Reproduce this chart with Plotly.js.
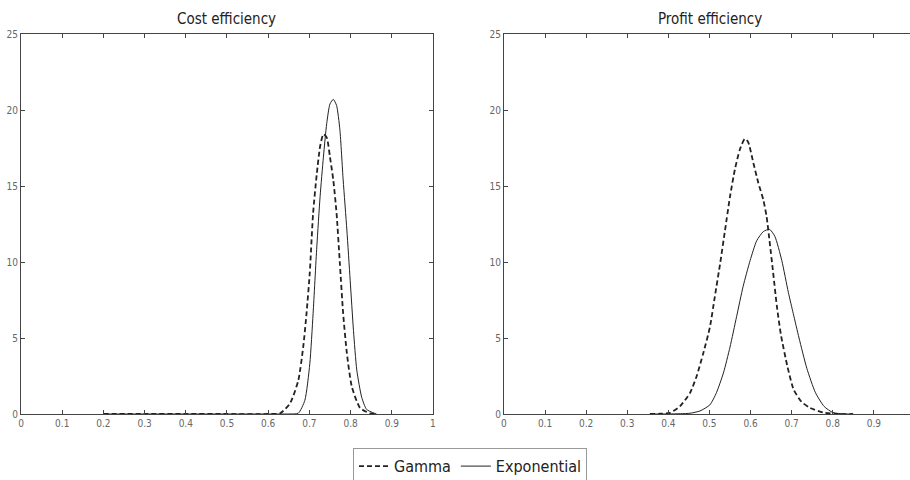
<!DOCTYPE html>
<html>
<head>
<meta charset="utf-8">
<script src="https://cdn.plot.ly/plotly-3.0.1.min.js"></script>
<style>html,body{margin:0;padding:0;background:#fff;}#chart{width:910px;height:480px;}</style>
</head>
<body>
<div id="chart"></div>
<script>
// Cost efficiency densities
const costGammaX = [0.20,0.30,0.40,0.50,0.60,0.629,0.653,0.673,0.685,0.693,0.701,0.709,0.718,0.726,0.734,0.742,0.750,0.758,0.766,0.774,0.782,0.791,0.803,0.823,0.847,0.864];
const costGammaY = [0,0,0,0,0,0.05,0.7,2.2,4.4,6.6,9.3,13.2,15.8,17.6,18.4,18.2,16.9,15.4,13.2,9.9,6.6,4.0,1.8,0.4,0.05,0];
const costExpX = [0.20,0.30,0.40,0.50,0.60,0.65,0.673,0.689,0.701,0.709,0.718,0.726,0.734,0.742,0.750,0.758,0.766,0.774,0.782,0.791,0.799,0.807,0.815,0.827,0.839,0.863];
const costExpY = [0,0,0,0,0,0,0.05,0.9,3.3,6.6,11.0,14.3,16.9,19.1,20.4,20.7,20.3,18.7,15.4,12.1,8.8,5.5,2.9,1.1,0.3,0];
// Profit efficiency densities
const profGammaX = [0.355,0.38,0.404,0.428,0.453,0.469,0.485,0.501,0.513,0.526,0.538,0.550,0.562,0.574,0.586,0.594,0.607,0.619,0.631,0.639,0.647,0.655,0.664,0.674,0.69,0.705,0.724,0.745,0.777,0.81,0.849];
const profGammaY = [0,0.02,0.08,0.5,1.4,2.5,4.0,5.7,7.7,9.9,12.1,14.3,16.1,17.4,18.1,17.9,16.5,15.2,14.1,13.0,11.2,9.3,7.1,5.2,3.1,1.6,0.8,0.4,0.1,0,0];
const profExpX = [0.36,0.40,0.43,0.453,0.477,0.501,0.517,0.534,0.550,0.566,0.582,0.599,0.615,0.631,0.646,0.659,0.676,0.692,0.704,0.718,0.737,0.758,0.779,0.80,0.83,0.85];
const profExpY = [0,0,0.02,0.05,0.2,0.6,1.4,2.7,4.4,6.4,8.4,10.1,11.4,12.0,12.15,11.7,10.1,8.0,6.6,5.0,3.0,1.4,0.5,0.1,0,0];

const panelTitles = ["Cost efficiency", "Profit efficiency"];
const seriesNames = ["Gamma", "Exponential"];
const xTicks = [0,0.1,0.2,0.3,0.4,0.5,0.6,0.7,0.8,0.9,1];
const xTickText = ["0","0.1","0.2","0.3","0.4","0.5","0.6","0.7","0.8","0.9","1"];
const yTicks = [0,5,10,15,20,25];

const FONT = "'Liberation Sans Narrow', 'Arial Narrow', 'DejaVu Sans Condensed', 'Liberation Sans', Arial, sans-serif";
const lineCol = '#222';

const traces = [
  {x: costGammaX, y: costGammaY, name: seriesNames[0], xaxis:'x', yaxis:'y', mode:'lines',
   line:{color:lineCol, width:1.8, dash:'5px,3px', shape:'spline', smoothing:0.6}, showlegend:true},
  {x: costExpX, y: costExpY, name: seriesNames[1], xaxis:'x', yaxis:'y', mode:'lines',
   line:{color:lineCol, width:1, shape:'spline', smoothing:0.6}, showlegend:true},
  {x: profGammaX, y: profGammaY, name: seriesNames[0], xaxis:'x2', yaxis:'y2', mode:'lines',
   line:{color:lineCol, width:1.8, dash:'5px,3px', shape:'spline', smoothing:0.6}, showlegend:false},
  {x: profExpX, y: profExpY, name: seriesNames[1], xaxis:'x2', yaxis:'y2', mode:'lines',
   line:{color:lineCol, width:1, shape:'spline', smoothing:0.6}, showlegend:false}
];

const axBase = {
  showgrid:false, zeroline:false, showline:true, linecolor:'#444', linewidth:1,
  ticks:'inside', ticklen:4, tickcolor:'#444', tickwidth:1,
  tickfont:{family:FONT, size:10, color:'#666'}
};

const layout = {
  width:910, height:480,
  margin:{l:0, r:0, t:34, b:66, autoexpand:false},
  paper_bgcolor:'#fff', plot_bgcolor:'#fff',
  showlegend:true,
  legend:{orientation:'h', x:0.5165, xanchor:'center', y:-0.09, yanchor:'top',
    bordercolor:'#999', borderwidth:1, bgcolor:'#fff',
    font:{family:FONT, size:16, color:'#222'}, itemwidth:30, tracegroupgap:0},
  xaxis: Object.assign({}, axBase, {domain:[0.02308, 0.4758], range:[0,1], tickvals:xTicks, ticktext:xTickText, mirror:'ticks', anchor:'y'}),
  yaxis: Object.assign({}, axBase, {domain:[0,1], range:[0,25], tickvals:yTicks, mirror:'ticks', anchor:'x'}),
  xaxis2: Object.assign({}, axBase, {domain:[0.5538, 1.0], range:[0,0.988], tickvals:xTicks, ticktext:xTickText, mirror:'ticks', anchor:'y2'}),
  yaxis2: Object.assign({}, axBase, {domain:[0,1], range:[0,25], tickvals:yTicks, mirror:false, anchor:'x2'}),
  annotations: [
    {text: panelTitles[0], xref:'paper', yref:'paper', x:(0.02308+0.4758)/2, y:1, yshift:4, xanchor:'center', yanchor:'bottom', showarrow:false,
     font:{family:FONT, size:15, color:'#222'}},
    {text: panelTitles[1], xref:'paper', yref:'paper', x:((504 + 915) / 2) / 910, y:1, yshift:4, xanchor:'center', yanchor:'bottom', showarrow:false,
     font:{family:FONT, size:15, color:'#222'}}
  ]
};

Plotly.newPlot('chart', traces, layout, {displayModeBar:false, staticPlot:true});
</script>
</body>
</html>
